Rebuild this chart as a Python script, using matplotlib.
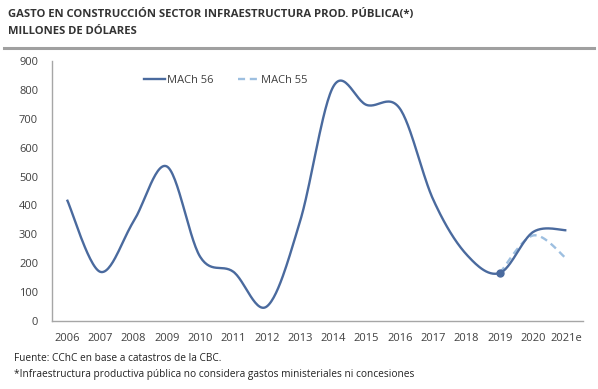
import numpy as np
import matplotlib
matplotlib.use("Agg")
import matplotlib.pyplot as plt
from matplotlib.lines import Line2D

plt.rcParams['font.family'] = ['Open Sans', 'DejaVu Sans']

years = ['2006', '2007', '2008', '2009', '2010', '2011', '2012', '2013',
         '2014', '2015', '2016', '2017', '2018', '2019', '2020', '2021e']
mach56 = [420, 170, 345, 535, 222, 170, 50, 345,
          812, 748, 735, 420, 230, 166, 308, 314]
mach55_years = ['2019', '2020', '2021e']
mach55 = [166, 296, 216]


def smooth(x, y, n=30):
    # excel-like smoothed line: cubic bezier through points
    x = np.asarray(x, float)
    y = np.asarray(y, float)
    pts = np.c_[x, y]
    out = []
    for i in range(len(pts) - 1):
        p0 = pts[max(i - 1, 0)]
        p1 = pts[i]
        p2 = pts[i + 1]
        p3 = pts[min(i + 2, len(pts) - 1)]
        c1 = p1 + (p2 - p0) / 6
        c2 = p2 - (p3 - p1) / 6
        t = np.linspace(0, 1, n)[:, None]
        seg = ((1 - t) ** 3) * p1 + 3 * ((1 - t) ** 2) * t * c1 + 3 * (1 - t) * t ** 2 * c2 + t ** 3 * p2
        out.append(seg if i == 0 else seg[1:])
    out = np.vstack(out)
    return out[:, 0], out[:, 1]


blue = '#4A6A9E'
light = '#9DBFE0'

fig = plt.figure(figsize=(5.98, 3.89), dpi=100)
ax = fig.add_axes([0.087, 0.175, 0.888, 0.668])

xi = np.arange(len(years))
sx, sy = smooth(xi, mach56)
ax.plot(sx, sy, color=blue, lw=1.7, solid_capstyle='butt', zorder=3)

x55 = [years.index(v) for v in mach55_years]
dx, dy = smooth(x55, mach55)
ax.plot(dx, dy, color=light, lw=1.7, ls=(0, (3, 2)), zorder=2)
ax.plot([x55[0]], [mach55[0]], 'o', color=blue, ms=5, zorder=4)

ax.set_xlim(-0.45, 15.5)
ax.set_ylim(0, 900)
ax.set_yticks(range(0, 901, 100))
ax.set_xticks(xi)
ax.set_xticklabels(years)
ax.tick_params(length=0, labelsize=8, colors='#404040', pad=9)
ax.tick_params(axis='y', pad=10)
for s in ['top', 'right']:
    ax.spines[s].set_visible(False)
for s in ['left', 'bottom']:
    ax.spines[s].set_color('#a6a6a6')
    ax.spines[s].set_linewidth(1)

handles = [Line2D([], [], color=blue, lw=1.7),
           Line2D([], [], color=light, lw=1.7, ls=(0, (3, 2)))]
ax.legend(handles, ['MACh 56', 'MACh 55'], loc='upper left', bbox_to_anchor=(0.155, 0.985),
          ncol=2, frameon=False, fontsize=8, handlelength=1.9, handletextpad=0.15,
          columnspacing=2.2, labelcolor='#404040')

fig.text(0.014, 0.963, 'GASTO EN CONSTRUCCIÓN SECTOR INFRAESTRUCTURA PROD. PÚBLICA(*)',
         fontsize=8.1, fontweight='bold', color='#333333', va='center')
fig.text(0.014, 0.92, 'MILLONES DE DÓLARES',
         fontsize=8.1, fontweight='bold', color='#333333', va='center')
fig.add_artist(Line2D([0.006, 0.994], [0.877, 0.877], color='#a0a0a0', lw=2.2))

fig.text(0.023, 0.079, 'Fuente: CChC en base a catastros de la CBC.',
         fontsize=7.3, color='#222222', va='center')
fig.text(0.023, 0.038, '*Infraestructura productiva pública no considera gastos ministeriales ni concesiones',
         fontsize=7.3, color='#222222', va='center')

fig.savefig('out.png', dpi=100)
